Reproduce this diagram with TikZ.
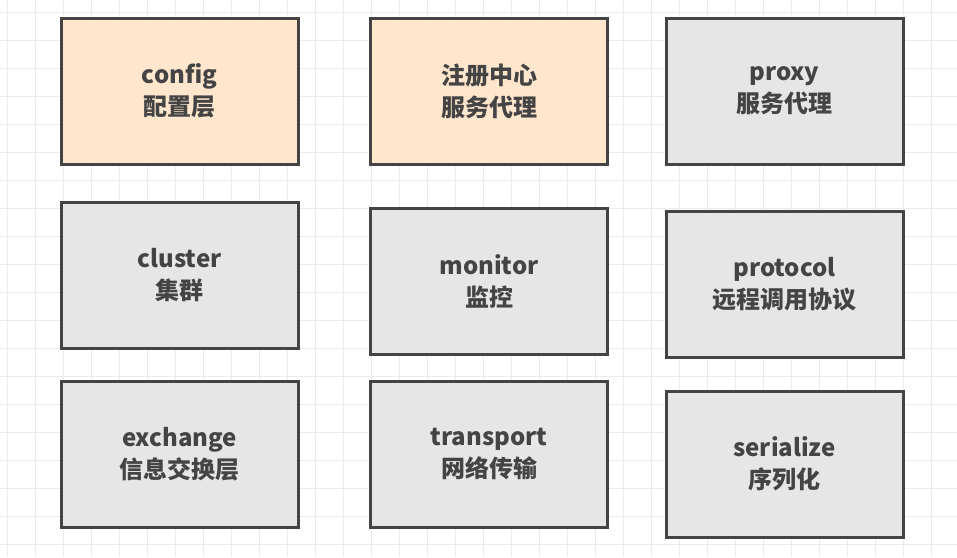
\documentclass[tikz,border=0pt]{standalone}
\usepackage{fontspec}
\setmainfont{Noto Sans CJK SC}
\usetikzlibrary{positioning}
\definecolor{peach}{HTML}{FFE6CC}
\definecolor{boxgray}{HTML}{E6E6E6}
\definecolor{edge}{HTML}{444444}
\definecolor{gridc}{HTML}{EBEBEB}

\begin{document}
\begin{tikzpicture}[x=1pt, y=-1pt,
  box/.style = {draw=edge, line width=3pt, fill=boxgray, minimum width=237pt,
    minimum height=146pt, align=center, text=edge,
    font=\fontsize{24}{32}\selectfont\bfseries},
  hot/.style = {box, fill=peach}]

\fill[white] (0,0) rectangle (957,557);
\useasboundingbox (0,0) rectangle (957,557);
\foreach \x in {7,35,...,957} \draw[gridc, line width=1pt] (\x,0) -- (\x,557);
\foreach \y in {12,40,...,557} \draw[gridc, line width=1pt] (0,\y) -- (957,\y);

% first row
\node [hot] (config) at (179.5,91) {config\\配置层};
\node [hot] (registry) at (489,91) {注册中心\\服务代理};
\node [box] (proxy) at (784.5,91) {proxy\\服务代理};

% second row
\node [box] (cluster) at (179.5,275.5) {cluster\\集群};
\node [box] (monitor) at (489,281) {monitor\\监控};
\node [box] (protocol) at (784.5,284) {protocol\\远程调用协议};

% third row
\node [box] (exchange) at (179.5,454) {exchange\\信息交换层};
\node [box] (transport) at (489,454) {transport\\网络传输};
\node [box] (serialize) at (784.5,464) {serialize\\序列化};

\end{tikzpicture}
\end{document}
